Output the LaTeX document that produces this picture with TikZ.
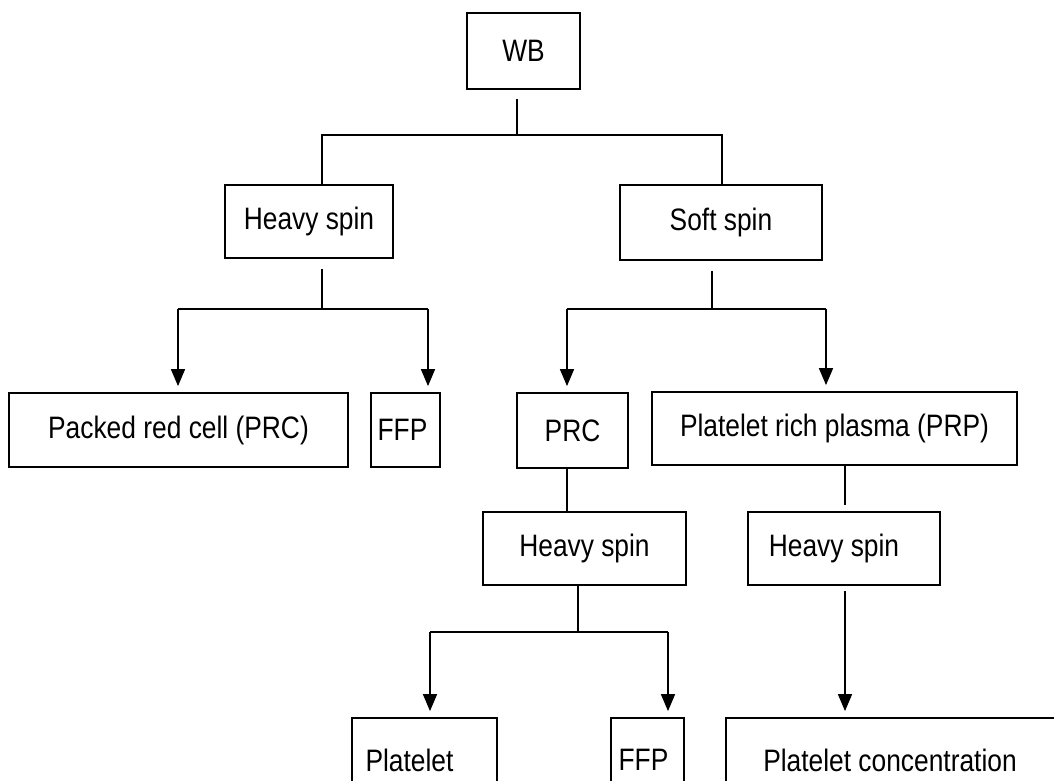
\documentclass[tikz,border=0pt]{standalone}
\usepackage{fontspec}
\setmainfont{Liberation Sans}[FakeStretch=0.85]
\usetikzlibrary{arrows.meta}
\begin{document}
\begin{tikzpicture}[x=1pt,y=-1pt,
  box/.style={draw, line width=1.8pt, inner sep=0pt, font=\fontsize{31}{36}\selectfont},
  conn/.style={line width=1.6pt},
  arr/.style={line width=1.6pt, -{Triangle[width=14pt,length=17pt]}, shorten >=6pt}]
\clip (0,0) rectangle (1054,780);
\fill[white] (0,0) rectangle (1054,780);
% boxes
\node[box, minimum width=113pt, minimum height=76pt] (wb) at (523.5,51) {WB};
\node[box, minimum width=168pt, minimum height=73pt] (hs1) at (309,221.5) {Heavy spin};
\node[box, minimum width=202pt, minimum height=75pt] (ss) at (721,222.5) {Soft spin};
\node[box, minimum width=339pt, minimum height=74pt] (prcb) at (178.5,430) {Packed red cell (PRC)};
\node[box, minimum width=69pt, minimum height=74pt] (ffp1) at (405.5,430) {FFP\hspace*{6pt}};
\node[box, minimum width=111pt, minimum height=75pt] (prc) at (572.5,430.5) {PRC};
\node[box, minimum width=365pt, minimum height=73pt] (prp) at (834.5,428.5) {Platelet rich plasma (PRP)};
\node[box, minimum width=203pt, minimum height=73pt] (hs2) at (584.5,548.5) {Heavy spin};
\node[box, minimum width=192pt, minimum height=73pt] (hs3) at (844,548.5) {Heavy spin\hspace*{20pt}};
\node[box, minimum width=145pt, minimum height=84pt] (pl) at (424.5,760) {Platelet\hspace*{30pt}};
\node[box, minimum width=73pt, minimum height=84pt] (ffp2) at (647.5,760) {FFP\hspace*{8pt}};
\node[box, minimum width=348pt, minimum height=84pt] (pc) at (900,760) {Platelet concentration\hspace*{20pt}};
% WB split
\coordinate (b1) at (517,135);
\coordinate (b1L) at (322,135);
\coordinate (b1R) at (722,135);
\draw[conn, shorten <=9pt] (wb.south -| b1) -- (b1);
\draw[conn] (hs1.north -| b1L) -- (b1L) -- (b1R) -- (ss.north -| b1R);
% Heavy spin 1 split
\coordinate (h1) at (322,309);
\coordinate (h1L) at (178,309);
\coordinate (h1R) at (428,309);
\draw[conn, shorten <=10pt] (hs1.south -| h1) -- (h1);
\draw[conn] (h1L) -- (h1R);
\draw[arr] (h1L) -- (prcb.north -| h1L);
\draw[arr] (h1R) -- (ffp1.north -| h1R);
% Soft spin split
\coordinate (s1) at (712,309);
\coordinate (s1L) at (567,309);
\coordinate (s1R) at (826,309);
\draw[conn, shorten <=10pt] (ss.south -| s1) -- (s1);
\draw[conn] (s1L) -- (s1R);
\draw[arr] (s1L) -- (prc.north -| s1L);
\draw[arr] (s1R) -- (prp.north -| s1R);
% PRC -> Heavy spin 2, PRP -> Heavy spin 3
\coordinate (p1) at (567,0);
\coordinate (p2) at (845,0);
\draw[conn] (prc.south -| p1) -- (hs2.north -| p1);
\draw[conn, shorten >=6pt] (prp.south -| p2) -- (hs3.north -| p2);
% Heavy spin 2 split
\coordinate (h2) at (578,632);
\coordinate (h2L) at (430,632);
\coordinate (h2R) at (668,632);
\draw[conn] (hs2.south -| h2) -- (h2);
\draw[conn] (h2L) -- (h2R);
\draw[arr] (h2L) -- (pl.north -| h2L);
\draw[arr] (h2R) -- (ffp2.north -| h2R);
% Heavy spin 3 -> Platelet concentration
\draw[arr, shorten <=5pt] (hs3.south -| p2) -- (pc.north -| p2);
\end{tikzpicture}
\end{document}
